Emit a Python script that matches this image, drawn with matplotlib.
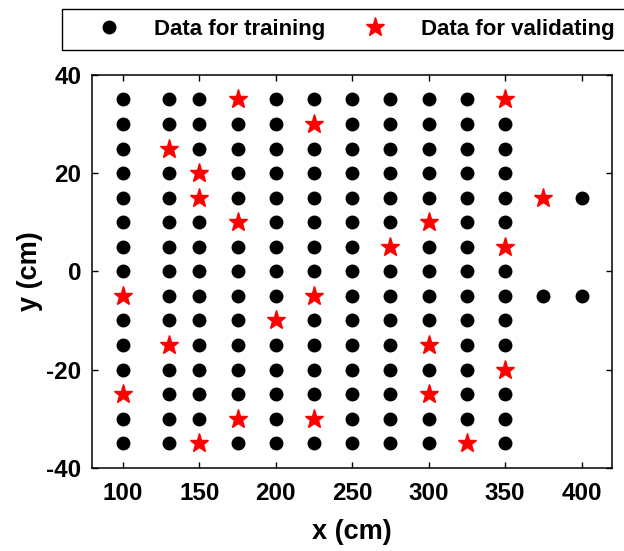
import matplotlib.pyplot as plt
import numpy as np

plt.rcParams['font.family'] = ['Liberation Sans', 'DejaVu Sans']
plt.rcParams['font.weight'] = 'bold'
plt.rcParams['axes.unicode_minus'] = False

# sampling grid (cm)
grid_x = [100, 130, 150, 175, 200, 225, 250, 275, 300, 325, 350]
grid_y = [35, 30, 25, 20, 15, 10, 5, 0, -5, -10, -15, -20, -25, -30, -35]

# points held out for validation
val_x = [100, 100, 130, 130, 150, 150, 150, 175, 175, 175, 200, 225, 225, 225,
         275, 300, 300, 300, 325, 350, 350, 350, 375]
val_y = [-5, -25, 25, -15, 20, 15, -35, 35, 10, -30, -10, 30, -5, -30,
         5, 10, -15, -25, -35, 35, 5, -20, 15]

# extra training points outside the grid
extra_x = [375, 400, 400]
extra_y = [-5, 15, -5]

val_set = set(zip(val_x, val_y))
train = [(x, y) for x in grid_x for y in grid_y if (x, y) not in val_set]
train += list(zip(extra_x, extra_y))
train_x = [p[0] for p in train]
train_y = [p[1] for p in train]

fig = plt.figure(figsize=(6.24, 5.51), dpi=100)
ax = fig.add_axes([0.148, 0.151, 0.833, 0.713])

ax.plot(train_x, train_y, 'o', color='black', ms=9, ls='none',
        label='Data for training')
ax.plot(val_x, val_y, '*', color='red', ms=14, ls='none', mec='red',
        label='Data for validating')

ax.set_xlim(80, 420)
ax.set_ylim(-40, 40)
ax.set_xticks([100, 150, 200, 250, 300, 350, 400])
ax.set_yticks([-40, -20, 0, 20, 40])
ax.tick_params(direction='in', top=True, right=True, length=4, width=1,
               labelsize=17.5)
ax.tick_params(axis='x', pad=10)
ax.tick_params(axis='y', pad=8)
for s in ax.spines.values():
    s.set_linewidth(1.1)

ax.set_xlabel('x (cm)', fontsize=19.5, fontweight='bold', labelpad=10)
ax.set_ylabel('y (cm)', fontsize=19.5, fontweight='bold', labelpad=2)

fig.legend(loc='upper left', bbox_to_anchor=(62 / 624, 1 - 9 / 551),
           ncol=2, fontsize=16, frameon=True, fancybox=False,
           edgecolor='black', framealpha=1, borderaxespad=0,
           borderpad=0.45, handlelength=3.3, handletextpad=0.4,
           columnspacing=0.6)

fig.savefig('out.png', dpi=100)
